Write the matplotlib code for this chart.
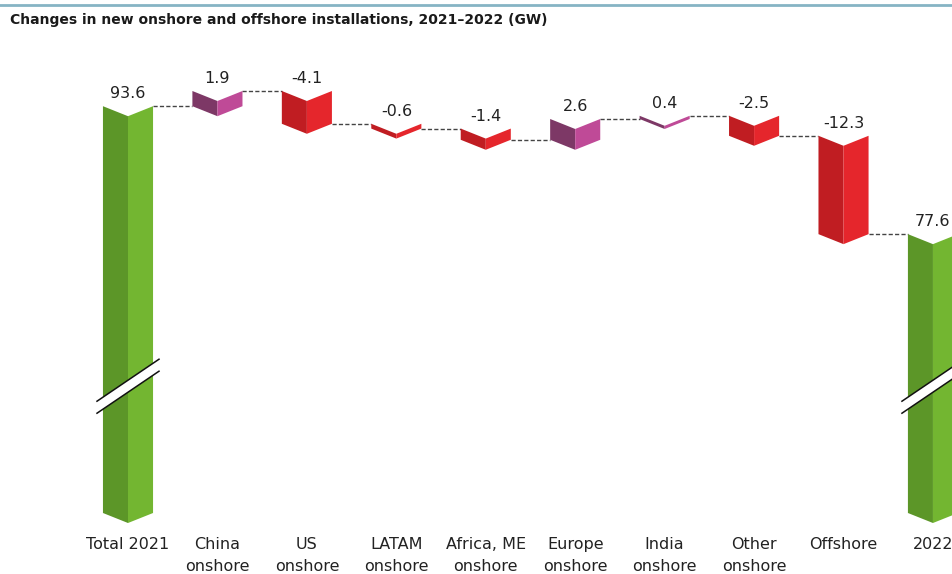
import numpy as np
import matplotlib
matplotlib.use('Agg')
import matplotlib.pyplot as plt
from matplotlib.patches import Polygon
from matplotlib.transforms import IdentityTransform, blended_transform_factory

categories = ['Total 2021', 'China\nonshore', 'US\nonshore', 'LATAM\nonshore',
              'Africa, ME\nonshore', 'Europe\nonshore', 'India\nonshore',
              'Other\nonshore', 'Offshore', '2022']
total_2021 = 93.6
changes = [1.9, -4.1, -0.6, -1.4, 2.6, 0.4, -2.5, -12.3]
total_2022 = 77.6
value_labels = ['93.6', '1.9', '-4.1', '-0.6', '-1.4', '2.6', '0.4', '-2.5', '-12.3', '77.6']

green = ('#5c9628', '#73b631')
purple = ('#7d3866', '#bf4a97')
red = ('#c01d22', '#e5262c')

# bar spans (bottom, top) for the waterfall
lows, highs, cols = [0.0], [total_2021], [green]
level = total_2021
for c in changes:
    new = level + c
    lows.append(min(level, new))
    highs.append(max(level, new))
    cols.append(purple if c > 0 else red)
    level = new
lows.append(0.0)
highs.append(total_2022)
cols.append(green)
ends = [total_2021] + list(np.cumsum(changes) + total_2021)

# broken-ish y scale: the top part is stretched
BRK = 72.0
K = 2.46
def fwd(y):
    y = np.asarray(y, float)
    return np.where(y <= BRK, y, BRK + (y - BRK) * K)
def inv(t):
    t = np.asarray(t, float)
    return np.where(t <= BRK, t, BRK + (t - BRK) / K)

fig = plt.figure(figsize=(9.53, 5.74), dpi=100)
ax = fig.add_axes([0, 0, 1, 1])
ax.set_yscale('function', functions=(fwd, inv))
ax.axis('off')

step = 89.44
ax.set_xlim(-128 / step, (953 - 128) / step)
ppu = (483 - 61) / float(fwd(95.5))
ax.set_ylim(float(inv(-61 / ppu)), float(inv(fwd(95.5) + 91 / ppu)))

W = 0.56
dip = 10 * fig.dpi / 100
to_disp = ax.transData.transform

for i, (lo, hi, (dark, light)) in enumerate(zip(lows, highs, cols)):
    (xl, yb), (xc, yt), (xr, _) = to_disp([(i - W / 2, lo), (i, hi), (i + W / 2, hi)])
    left = [(xl, yt), (xc, yt - dip), (xc, yb - dip), (xl, yb)]
    right = [(xc, yt - dip), (xr, yt), (xr, yb), (xc, yb - dip)]
    ax.add_patch(Polygon(left, closed=True, facecolor=dark, edgecolor='none',
                         transform=IdentityTransform(), zorder=3))
    ax.add_patch(Polygon(right, closed=True, facecolor=light, edgecolor='none',
                         transform=IdentityTransform(), zorder=3))
    ax.annotate(value_labels[i], (i, hi), xytext=(0, 9), textcoords='offset points',
                ha='center', va='center', fontsize=11.5, color='#222222', zorder=5)

# dashed connectors
for i, lv in enumerate(ends):
    ax.plot([i + W / 2, i + 1 - W / 2], [lv, lv], ls=(0, (3, 1.6)), lw=1.0,
            color='#444444', zorder=2)

# axis break marks on the total bars
for i in (0, len(categories) - 1):
    xc, yc = to_disp((i, 39))
    hw, rise, gap = 31, 21, 6
    band = [(xc - hw, yc - rise + gap), (xc + hw, yc + rise + gap),
            (xc + hw, yc + rise - gap), (xc - hw, yc - rise - gap)]
    ax.add_patch(Polygon(band, closed=True, facecolor='white', edgecolor='none',
                         transform=IdentityTransform(), zorder=4))
    for g in (gap, -gap):
        ax.plot([xc - hw, xc + hw], [yc - rise + g, yc + rise + g], color='#111111',
                lw=1.1, transform=IdentityTransform(), zorder=4)

# category labels
tr = blended_transform_factory(ax.transData, ax.transAxes)
for i, name in enumerate(categories):
    ax.text(i, 1 - 537 / 574, name, transform=tr, ha='center', va='top',
            fontsize=11.5, color='#222222', linespacing=1.6)

fig.text(10 / 953, 1 - 20 / 574,
         'Changes in new onshore and offshore installations, 2021\u20132022 (GW)',
         ha='left', va='center', fontsize=10, fontweight='bold', color='#1a1a1a')
fig.add_artist(plt.Line2D([0, 1], [1 - 5 / 574, 1 - 5 / 574], color='#86b4c4', lw=2,
                          transform=fig.transFigure))

fig.savefig('out.png', dpi=100)
